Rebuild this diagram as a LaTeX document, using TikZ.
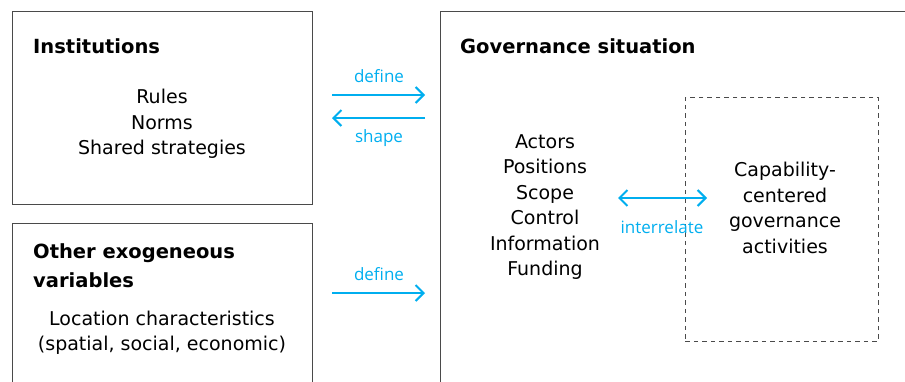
\documentclass[tikz,border=0pt]{standalone}
\usepackage{fontspec}
\setmainfont{DejaVu Sans}
\newfontfamily\labelfont{Open Sans}
\usetikzlibrary{arrows.meta}
\definecolor{boxgray}{HTML}{4A4A4A}
\definecolor{relblue}{HTML}{00AEEF}
\tikzset{
	box/.style={draw=boxgray, line width=1.1pt, anchor=north west, inner sep=0pt},
	dashbox/.style={draw=boxgray, line width=0.9pt, dash pattern=on 4.5pt off 4pt, anchor=north west, inner sep=0pt},
	title/.style={anchor=base west, align=left, inner sep=0pt, font=\fontsize{19.5}{29}\selectfont\bfseries},
	items/.style={anchor=center, align=center, inner sep=0pt, font=\fontsize{19}{25.5}\selectfont},
	barb/.tip={Straight Barb[length=8pt, width=16pt, line width=2pt]},
	rel/.style={draw=relblue, line width=2pt, -barb},
	rel2/.style={draw=relblue, line width=2pt, barb-barb},
	rellabel/.style={anchor=base, inner sep=0pt, text=relblue, font=\labelfont\fontsize{17}{20}\selectfont},
}
\begin{document}
\begin{tikzpicture}[x=1pt, y=-1pt]
		\clip (0, 0) rectangle (905, 381);
		% boxes
		\node [box, minimum width=300pt, minimum height=193pt] at (12, 11) (inst) {};
		\node [box, minimum width=300pt, minimum height=200pt] at (12, 223) (exo) {};
		\node [box, minimum width=500pt, minimum height=400pt] at (440, 11) (gov) {};
		\node [dashbox, minimum width=193pt, minimum height=244pt] at (685, 97) (cap) {};
		% titles
		\node [title] at (33, 53) (insttitle) {Institutions};
		\node [title] at (33, 287) (exotitle) {Other exogeneous\\variables};
		\node [title] at (460, 53) (govtitle) {Governance situation};
		% contents
		\node [items] at (162, 124) (instlist) {Rules\\Norms\\Shared strategies};
		\node [items] at (162, 333) (exolist) {Location characteristics\\(spatial, social, economic)};
		\node [items] at (545, 207) (govlist) {Actors\\Positions\\Scope\\Control\\Information\\Funding};
		\node [items] at (785, 208) (caplist) {Capability-\\centered\\governance\\activities};
		% arrows
		\coordinate (d1a) at (332, 95);
		\coordinate (d1b) at (425, 95);
		\coordinate (s1a) at (425, 118);
		\coordinate (s1b) at (332, 118);
		\coordinate (d2a) at (332, 293);
		\coordinate (d2b) at (425, 293);
		\coordinate (ira) at (618, 198);
		\coordinate (irb) at (707, 198);
		\draw [rel] (d1a) -- (d1b);
		\draw [rel] (s1a) -- (s1b);
		\draw [rel] (d2a) -- (d2b);
		\draw [rel2] (ira) -- (irb);
		\node [rellabel] at (379, 82) (definelabel) {define};
		\node [rellabel] at (379, 142) (shapelabel) {shape};
		\node [rellabel] at (379, 280) (define2label) {define};
		\node [rellabel] at (662, 233) (irlabel) {interrelate};
	\end{tikzpicture}
\end{document}
